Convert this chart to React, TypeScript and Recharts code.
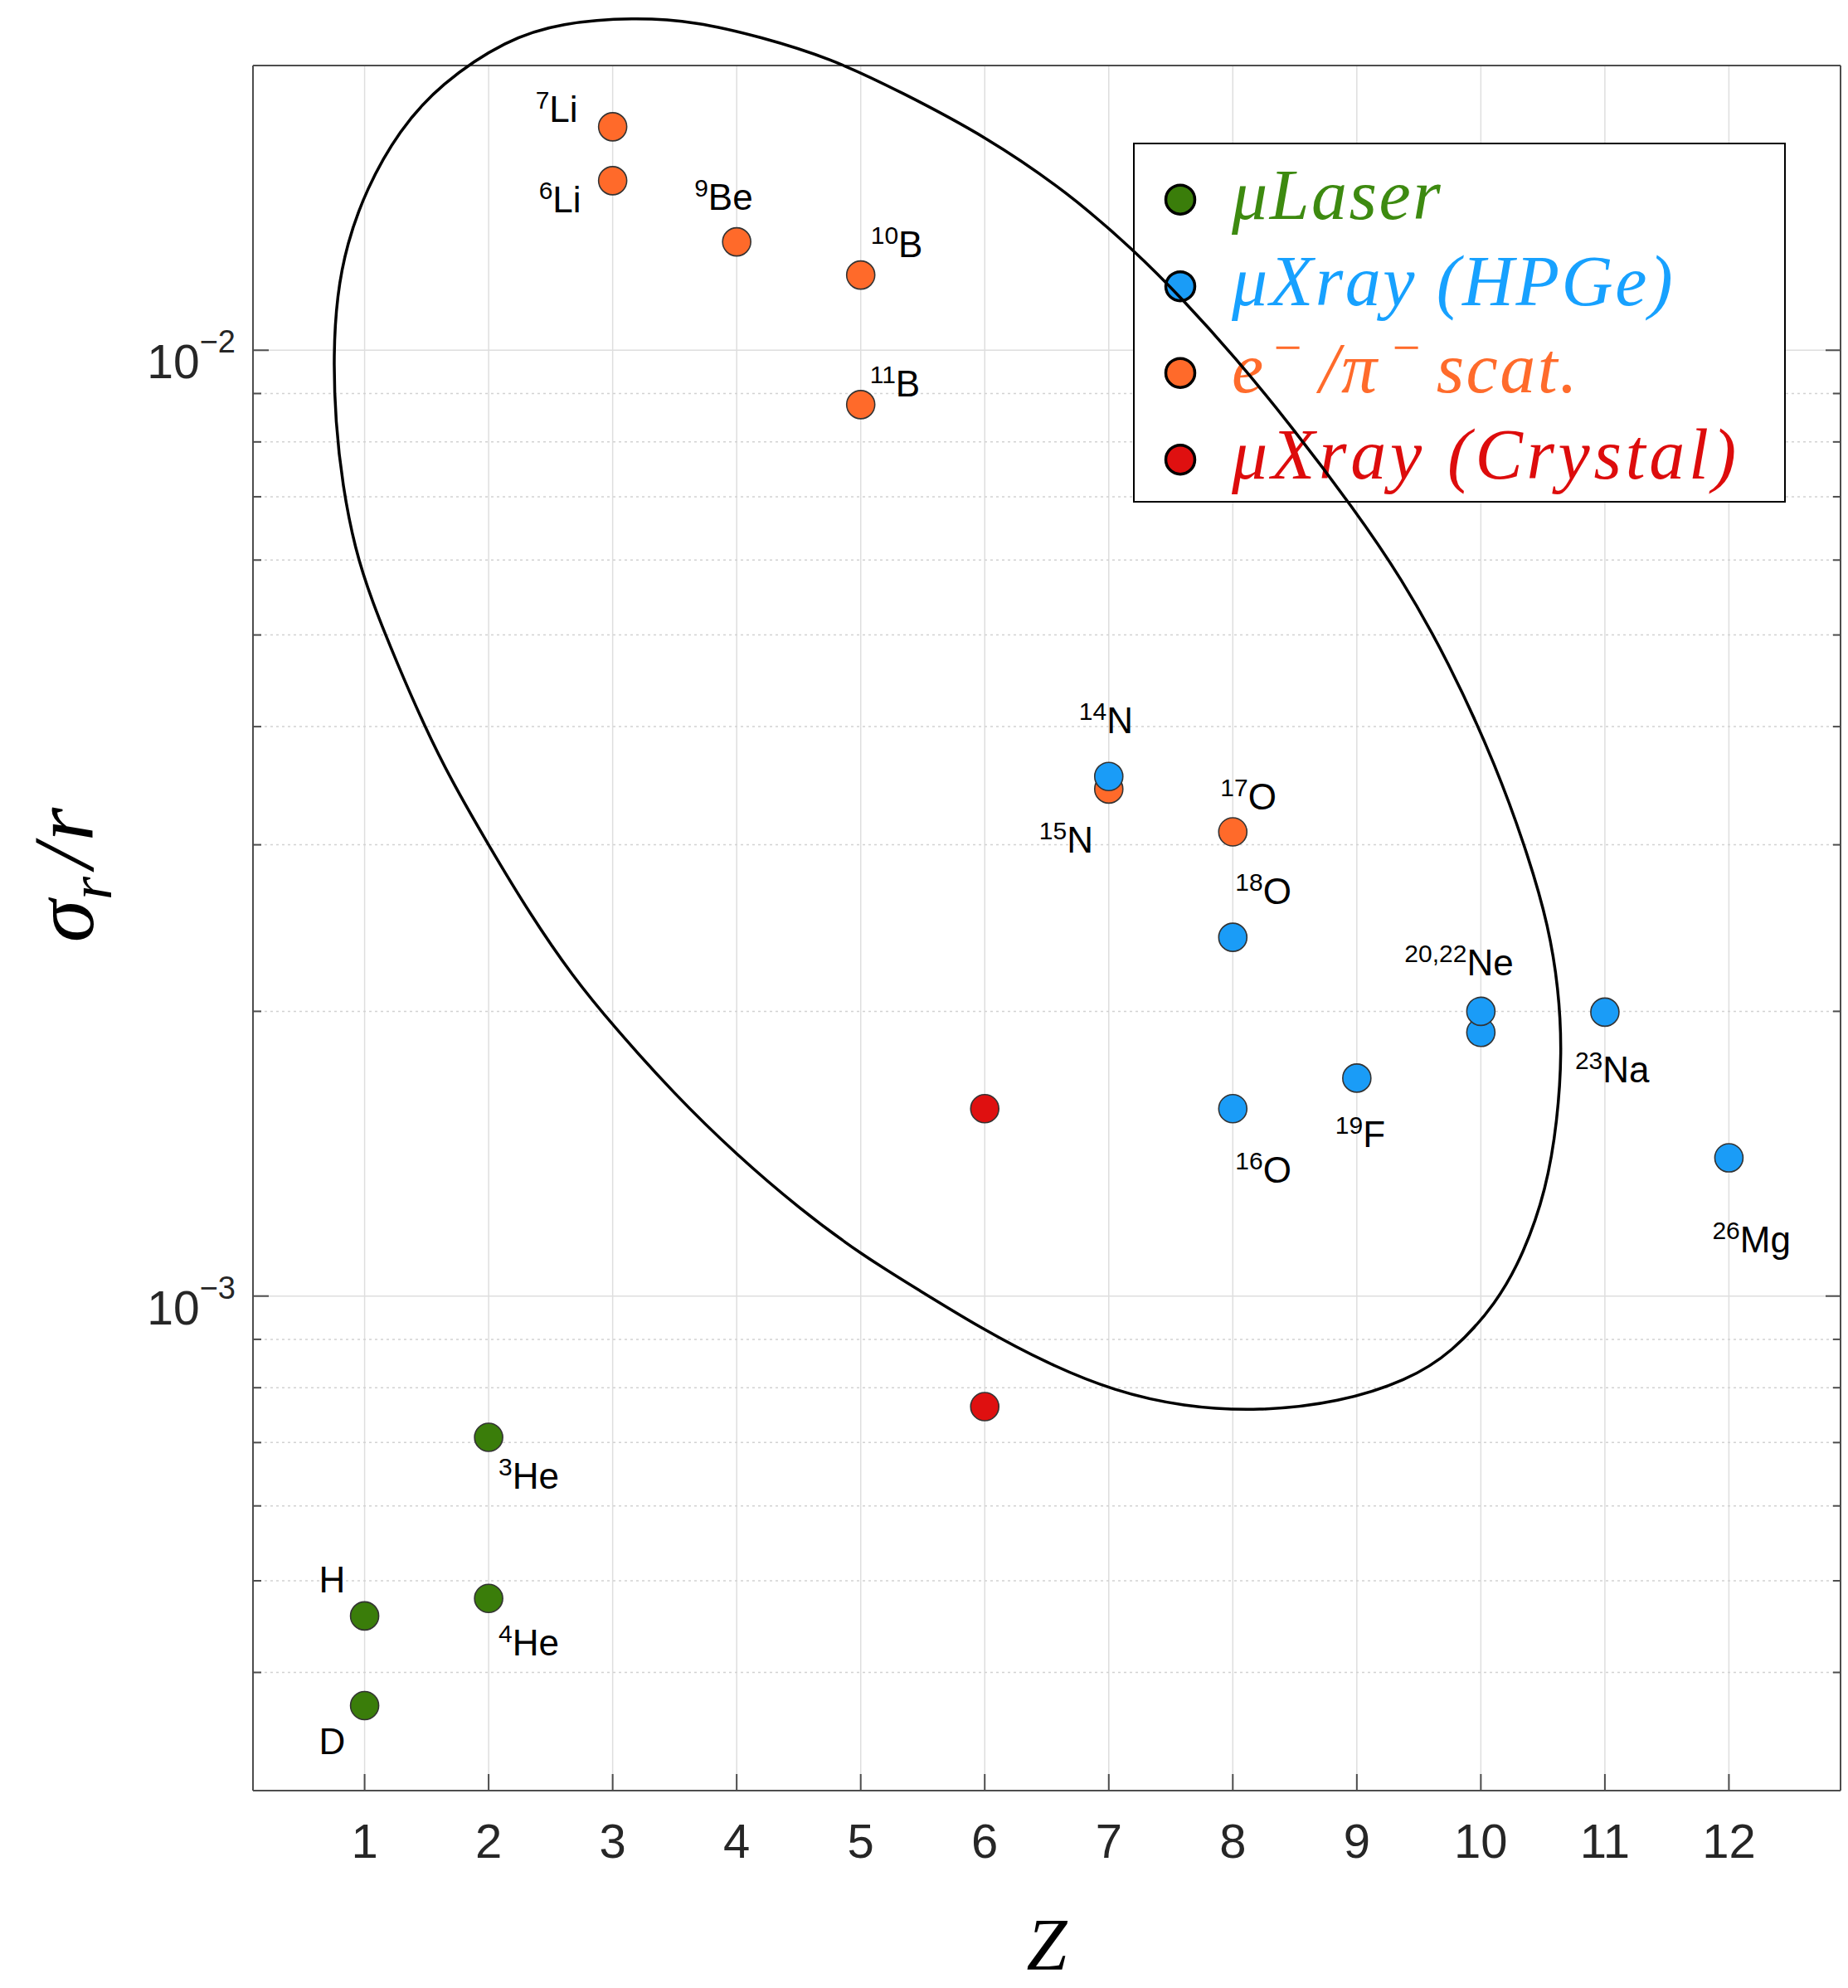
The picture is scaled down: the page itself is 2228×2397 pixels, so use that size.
import React from "react";
import {
  ComposedChart,
  Scatter,
  Line,
  XAxis,
  YAxis,
  CartesianGrid,
  ReferenceLine,
  Legend,
  Label,
} from "recharts";

// ---- data ----

const zTicks = [1, 2, 3, 4, 5, 6, 7, 8, 9, 10, 11, 12];
const yMajorTicks = [0.001, 0.01];
const yMinorTicks = [
  0.0004, 0.0005, 0.0006, 0.0007, 0.0008, 0.0009, 0.002, 0.003, 0.004, 0.005,
  0.006, 0.007, 0.008, 0.009,
];
const zDomain = [0.1, 12.9];
const yDomain = [0.0003, 0.02];

const laserPoints = [
  { z: 1, v: 0.000459, mass: "", el: "H" },
  { z: 1, v: 0.000369, mass: "", el: "D" },
  { z: 2, v: 0.000709, mass: "3", el: "He" },
  { z: 2, v: 0.000479, mass: "4", el: "He" },
];

const scatteringPoints = [
  { z: 3, v: 0.01723, mass: "7", el: "Li" },
  { z: 3, v: 0.01511, mass: "6", el: "Li" },
  { z: 4, v: 0.01302, mass: "9", el: "Be" },
  { z: 5, v: 0.01201, mass: "10", el: "B" },
  { z: 5, v: 0.00876, mass: "11", el: "B" },
  { z: 7, v: 0.003436, mass: "15", el: "N" },
  { z: 8, v: 0.003096, mass: "17", el: "O" },
];

const hpgePoints = [
  { z: 7, v: 0.003543, mass: "14", el: "N" },
  { z: 8, v: 0.002395, mass: "18", el: "O" },
  { z: 8, v: 0.001578, mass: "16", el: "O" },
  { z: 9, v: 0.0017, mass: "19", el: "F" },
  { z: 10, v: 0.0019, mass: "", el: "" },
  { z: 10, v: 0.002, mass: "20,22", el: "Ne" },
  { z: 11, v: 0.001996, mass: "23", el: "Na" },
  { z: 12, v: 0.0014, mass: "26", el: "Mg" },
];

const crystalPoints = [
  { z: 6, v: 0.001578, mass: "", el: "" },
  { z: 6, v: 0.000764, mass: "", el: "" },
];

// points traced along the hand-drawn ellipse, clockwise from the top
const ellipsePoints = [
  { z: 3.167, v: 0.02249 },
  { z: 3.677, v: 0.02226 },
  { z: 4.189, v: 0.02145 },
  { z: 4.752, v: 0.020375 },
  { z: 5.328, v: 0.01875 },
  { z: 6.018, v: 0.0168 },
  { z: 6.671, v: 0.01468 },
  { z: 7.208, v: 0.01274 },
  { z: 7.591, v: 0.01134 },
  { z: 8.013, v: 0.009848 },
  { z: 8.473, v: 0.008312 },
  { z: 8.973, v: 0.006806 },
  { z: 9.356, v: 0.005755 },
  { z: 9.74, v: 0.004685 },
  { z: 10.123, v: 0.003639 },
  { z: 10.392, v: 0.002897 },
  { z: 10.546, v: 0.002459 },
  { z: 10.626, v: 0.002118 },
  { z: 10.655, v: 0.001814 },
  { z: 10.618, v: 0.001533 },
  { z: 10.528, v: 0.001296 },
  { z: 10.347, v: 0.00111 },
  { z: 10.129, v: 0.000983 },
  { z: 9.767, v: 0.000871 },
  { z: 9.405, v: 0.000814 },
  { z: 8.862, v: 0.000772 },
  { z: 8.21, v: 0.000755 },
  { z: 7.594, v: 0.000764 },
  { z: 7.051, v: 0.000793 },
  { z: 6.508, v: 0.000848 },
  { z: 5.964, v: 0.0009256 },
  { z: 5.476, v: 0.0010134 },
  { z: 5.005, v: 0.001106 },
  { z: 4.504, v: 0.0012378 },
  { z: 3.999, v: 0.0014105 },
  { z: 3.498, v: 0.0016343 },
  { z: 2.997, v: 0.0019354 },
  { z: 2.68, v: 0.0021754 },
  { z: 2.339, v: 0.0025272 },
  { z: 1.998, v: 0.0029985 },
  { z: 1.691, v: 0.003525 },
  { z: 1.486, v: 0.0039974 },
  { z: 1.265, v: 0.004656 },
  { z: 1.055, v: 0.005445 },
  { z: 0.922, v: 0.006163 },
  { z: 0.822, v: 0.007191 },
  { z: 0.765, v: 0.008397 },
  { z: 0.748, v: 0.009898 },
  { z: 0.777, v: 0.011434 },
  { z: 0.855, v: 0.012933 },
  { z: 1.011, v: 0.01479 },
  { z: 1.278, v: 0.01709 },
  { z: 1.612, v: 0.01913 },
  { z: 2.144, v: 0.02131 },
  { z: 2.588, v: 0.02219 },
];

// label placement relative to the marker centre: [dx to text start, dy to baseline]
const labelOffsets: Record<string, [number, number]> = {
  H: [-55, -28],
  D: [-55, 59],
  "3He": [12, 62],
  "4He": [12, 69],
  "7Li": [-93, -6],
  "6Li": [-89, 38],
  "9Be": [-51, -39],
  "10B": [12, -22],
  "11B": [11, -10],
  "15N": [-84, 77],
  "17O": [-15, -27],
  "14N": [-36, -52],
  "18O": [3, -40],
  "16O": [3, 89],
  "19F": [-26, 83],
  "20,22Ne": [-92, -43],
  "23Na": [-36, 85],
  "26Mg": [-20, 114],
};

// ---- styling ----

const W = 2228;
const H = 2397;
const FRAME = "#4d4d4d";
const TICK_TEXT = "#262626";
const GRID = "#dedede";
const SANS = '"Liberation Sans", Arial, sans-serif';
const SERIF = '"Liberation Serif", "Times New Roman", serif';

type LegendPart = { t: string; sup?: boolean; dx?: number };

const seriesList: {
  key: string;
  fill: string;
  text: string;
  ls: number;
  data: typeof laserPoints;
  legend: LegendPart[];
}[] = [
  {
    key: "laser",
    fill: "#3a7d0a",
    text: "#3d8a10",
    ls: 2.5,
    data: laserPoints,
    legend: [{ t: "μLaser" }],
  },
  {
    key: "hpge",
    fill: "#1a9cf7",
    text: "#17a1ff",
    ls: 2.5,
    data: hpgePoints,
    legend: [{ t: "μXray (HPGe)" }],
  },
  {
    key: "scat",
    fill: "#ff6a2a",
    text: "#ff6b2b",
    ls: 2.5,
    data: scatteringPoints,
    legend: [
      { t: "e" },
      { t: "−", sup: true, dx: 6 },
      { t: "/π", dx: 16 },
      { t: "−", sup: true, dx: 12 },
      { t: "scat.", dx: 14 },
    ],
  },
  {
    key: "crystal",
    fill: "#df1010",
    text: "#dd0c0c",
    ls: 4.7,
    data: crystalPoints,
    legend: [{ t: "μXray (Crystal)" }],
  },
];

// draw order: orange under blue where they overlap at Z = 7
const drawOrder = ["laser", "scat", "hpge", "crystal"];

const isMajor = (v: number) =>
  yMajorTicks.some((m) => Math.abs(m - v) / m < 1e-6);

const makeShape = (fill: string) => (props: any) => {
  const { cx, cy, payload } = props;
  const key = `${payload.mass ?? ""}${payload.el ?? ""}`;
  const off = labelOffsets[key];
  return (
    <g>
      <circle cx={cx} cy={cy} r={17} fill={fill} stroke="#333" strokeWidth={1.6} />
      {off && (
        <text
          x={cx + off[0]}
          y={cy + off[1]}
          fontFamily={SANS}
          fontSize={44}
          fill="#000"
        >
          {payload.mass ? (
            <tspan fontSize={30} dy={-16}>
              {payload.mass}
            </tspan>
          ) : null}
          <tspan dy={payload.mass ? 16 : 0}>{payload.el}</tspan>
        </text>
      )}
    </g>
  );
};

const BottomTick = (props: any) => {
  const { x, y, payload } = props;
  return (
    <g>
      <line x1={x} x2={x} y1={y} y2={y - 20} stroke={FRAME} strokeWidth={2} />
      <text
        x={x}
        y={y + 81}
        textAnchor="middle"
        fontFamily={SANS}
        fontSize={58}
        fill={TICK_TEXT}
      >
        {payload.value}
      </text>
    </g>
  );
};

const TopTick = (props: any) => {
  const { x, y } = props;
  return <line x1={x} x2={x} y1={y} y2={y + 18} stroke={FRAME} strokeWidth={2} />;
};

const LeftTick = (props: any) => {
  const { x, y, payload } = props;
  const major = isMajor(payload.value);
  const exp = Math.round(Math.log10(payload.value));
  return (
    <g>
      <line x1={x} x2={x + (major ? 19 : 10)} y1={y} y2={y} stroke={FRAME} strokeWidth={2} />
      {major && (
        <text
          x={x - 21}
          y={y + 34}
          textAnchor="end"
          fontFamily={SANS}
          fontSize={57}
          fill={TICK_TEXT}
        >
          10
          <tspan dy={-31} fontSize={38}>{`−${Math.abs(exp)}`}</tspan>
        </text>
      )}
    </g>
  );
};

const RightTick = (props: any) => {
  const { x, y, payload } = props;
  const major = isMajor(payload.value);
  return <line x1={x} x2={x - (major ? 18 : 9)} y1={y} y2={y} stroke={FRAME} strokeWidth={2} />;
};

const LegendBox = () => (
  <svg width={787} height={434}>
    <rect x={1} y={1} width={785} height={432} fill="#fff" stroke="#000" strokeWidth={2} />
    {seriesList.map((s, i) => {
      const cy = 68.7 + i * 104.5;
      return (
        <g key={s.key}>
          <circle cx={57} cy={cy} r={17.5} fill={s.fill} stroke="#000" strokeWidth={3.5} />
          <text
            x={119}
            y={cy + 23}
            fontFamily={SERIF}
            fontStyle="italic"
            fontSize={86}
            letterSpacing={s.ls}
            fill={s.text}
          >
            {s.legend.map((p, j) => (
              <tspan
                key={j}
                fontSize={p.sup ? 60 : 86}
                dx={p.dx ?? 0}
                dy={p.sup ? -34 : j > 0 && s.legend[j - 1].sup ? 34 : 0}
              >
                {p.t}
              </tspan>
            ))}
          </text>
        </g>
      );
    })}
  </svg>
);

export default function App() {
  const allYTicks = [...yMinorTicks, ...yMajorTicks].sort((a, b) => a - b);
  return (
    <div style={{ position: "absolute", left: 0, top: 0, width: W, height: H, background: "#fff" }}>
      <style>{`.ellipse-layer [clip-path]{clip-path:none !important;}`}</style>
      <ComposedChart width={W} height={H} margin={{ top: 78, right: 0, bottom: 0, left: 0 }}>
        <CartesianGrid horizontal={false} vertical stroke={GRID} strokeWidth={1.5} />
        {yMinorTicks.map((v) => (
          <ReferenceLine
            key={`minor-${v}`}
            y={v}
            stroke="#d2d2d2"
            strokeWidth={1.5}
            strokeDasharray="3 4"
          />
        ))}
        {yMajorTicks.map((v) => (
          <ReferenceLine key={`major-${v}`} y={v} stroke={GRID} strokeWidth={1.5} />
        ))}
        <XAxis
          dataKey="z"
          type="number"
          domain={zDomain}
          ticks={zTicks}
          interval={0}
          allowDataOverflow
          height={238}
          tickSize={0}
          tickMargin={0}
          tickLine={false}
          axisLine={{ stroke: FRAME, strokeWidth: 2 }}
          tick={BottomTick}
        >
          <Label
            content={() => (
              <text
                x={1262}
                y={2374}
                textAnchor="middle"
                fontFamily={SERIF}
                fontStyle="italic"
                fontSize={88}
                fill="#000"
              >
                Z
              </text>
            )}
          />
        </XAxis>
        <XAxis
          xAxisId="top"
          orientation="top"
          type="number"
          domain={zDomain}
          ticks={zTicks}
          interval={0}
          allowDataOverflow
          height={1}
          tickSize={0}
          tickMargin={0}
          tickLine={false}
          axisLine={{ stroke: FRAME, strokeWidth: 2 }}
          tick={TopTick}
        />
        <YAxis
          dataKey="v"
          type="number"
          scale="log"
          domain={yDomain}
          ticks={allYTicks}
          interval={0}
          allowDataOverflow
          width={305}
          tickSize={0}
          tickMargin={0}
          tickLine={false}
          axisLine={{ stroke: FRAME, strokeWidth: 2 }}
          tick={LeftTick}
        >
          <Label
            content={() => (
              <text
                x={112}
                y={1055}
                transform="rotate(-90 112 1055)"
                textAnchor="middle"
                fontFamily={SERIF}
                fontStyle="italic"
                fontSize={104}
                fill="#000"
              >
                σ
                <tspan dy={22} fontSize={72}>
                  r
                </tspan>
                <tspan dy={-22} dx={10}>
                  /
                </tspan>
                <tspan dx={4}>r</tspan>
              </text>
            )}
          />
        </YAxis>
        <YAxis
          yAxisId="right"
          orientation="right"
          type="number"
          scale="log"
          domain={yDomain}
          ticks={allYTicks}
          interval={0}
          allowDataOverflow
          width={9}
          tickSize={0}
          tickMargin={0}
          tickLine={false}
          axisLine={{ stroke: FRAME, strokeWidth: 2 }}
          tick={RightTick}
        />
        {drawOrder.map((k) => {
          const s = seriesList.find((x) => x.key === k)!;
          return (
            <Scatter
              key={s.key}
              name={s.key}
              data={s.data}
              fill={s.fill}
              shape={makeShape(s.fill)}
              isAnimationActive={false}
            />
          );
        })}
        <Legend
          layout="vertical"
          align="center"
          verticalAlign="middle"
          content={LegendBox}
          wrapperStyle={{ left: 1366, top: 172, width: 787, height: 434 }}
        />
      </ComposedChart>
      <div
        className="ellipse-layer"
        style={{ position: "absolute", left: 0, top: 0, pointerEvents: "none" }}
      >
        <ComposedChart
          width={W}
          height={H}
          data={ellipsePoints}
          margin={{ top: 79, right: 9, bottom: 238, left: 305 }}
        >
          <XAxis hide dataKey="z" type="number" domain={zDomain} allowDataOverflow />
          <YAxis hide type="number" scale="log" domain={yDomain} allowDataOverflow />
          <Line
            dataKey="v"
            type="basisClosed"
            stroke="#000"
            strokeWidth={3.5}
            dot={false}
            activeDot={false}
            legendType="none"
            isAnimationActive={false}
          />
        </ComposedChart>
      </div>
    </div>
  );
}
